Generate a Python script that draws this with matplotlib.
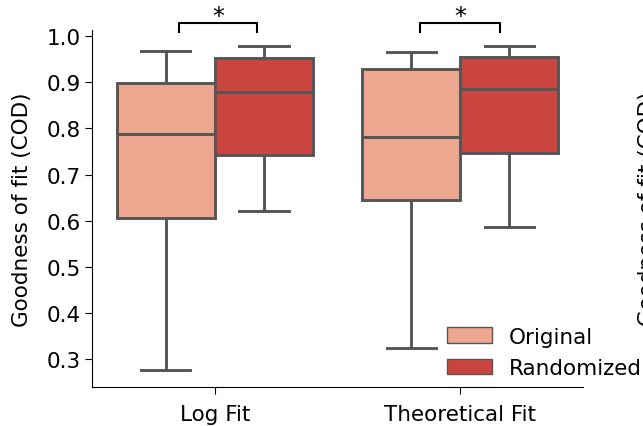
import matplotlib
matplotlib.use("Agg")
import matplotlib.pyplot as plt
from matplotlib.patches import Patch

# box statistics
fits = ["Log Fit", "Theoretical Fit"]
groups = ["Original", "Randomized"]
colors = ["#EDA690", "#CB4540"]
line_color = "#555555"

# [fit][group]
whislo = [[0.275, 0.620], [0.323, 0.587]]
q1 = [[0.606, 0.742], [0.644, 0.747]]
med = [[0.787, 0.880], [0.781, 0.886]]
q3 = [[0.899, 0.952], [0.929, 0.956]]
whishi = [[0.969, 0.980], [0.967, 0.980]]

# significance brackets (x span relative to category centre)
bracket_span = [(-0.147, 0.173), (-0.163, 0.163)]
bracket_y = 1.030
bracket_drop = 0.021
bracket_text = ["*", "*"]

plt.rcParams["font.size"] = 15.5

fig = plt.figure(figsize=(6.43, 4.27), dpi=100)
ax = fig.add_axes([0.1435, 0.0913, 0.9067 - 0.1435, 0.928 - 0.0913])

width = 0.4
for i, fit in enumerate(fits):
    for j, grp in enumerate(groups):
        stats = [{
            "whislo": whislo[i][j], "q1": q1[i][j], "med": med[i][j],
            "q3": q3[i][j], "whishi": whishi[i][j], "fliers": [],
        }]
        pos = i - width / 2 + j * width
        ax.bxp(stats, positions=[pos], widths=width, patch_artist=True,
               showfliers=False, manage_ticks=False,
               boxprops=dict(facecolor=colors[j], edgecolor=line_color, linewidth=2.1),
               medianprops=dict(color=line_color, linewidth=2.1),
               whiskerprops=dict(color=line_color, linewidth=2.1),
               capprops=dict(color=line_color, linewidth=2.1),
               capwidths=width / 2)

for i, (lo, hi) in enumerate(bracket_span):
    x0, x1 = i + lo, i + hi
    ax.plot([x0, x0, x1, x1],
            [bracket_y - bracket_drop, bracket_y, bracket_y, bracket_y - bracket_drop],
            color="black", lw=1.5, clip_on=False)
    ax.text((x0 + x1) / 2, bracket_y - 0.012, bracket_text[i], ha="center", va="bottom",
            fontsize=17, clip_on=False)

ax.set_xlim(-0.5, 1.5)
ax.set_ylim(0.239, 1.0143)
ax.set_xticks(range(len(fits)))
ax.set_xticklabels(fits)
ax.set_yticks([0.3, 0.4, 0.5, 0.6, 0.7, 0.8, 0.9, 1.0])
ax.tick_params(axis="x", length=5, pad=7)
ax.tick_params(axis="y", length=5)
ax.set_ylabel("Goodness of fit (COD)", labelpad=10)
ax.spines["top"].set_visible(False)
ax.spines["right"].set_visible(False)

handles = [Patch(facecolor=c, edgecolor=line_color, label=g) for c, g in zip(colors, groups)]
ax.legend(handles=handles, loc="lower left", bbox_to_anchor=(0.683, -0.03),
          frameon=False, handlelength=2.1, handleheight=0.7, labelspacing=0.55)

# y label of the neighbouring panel, cut off at the figure edge
fig.text(0.992, 0.51, "Goodness of fit (COD)", rotation=90, ha="left", va="center")

fig.savefig("out.png", dpi=100)
